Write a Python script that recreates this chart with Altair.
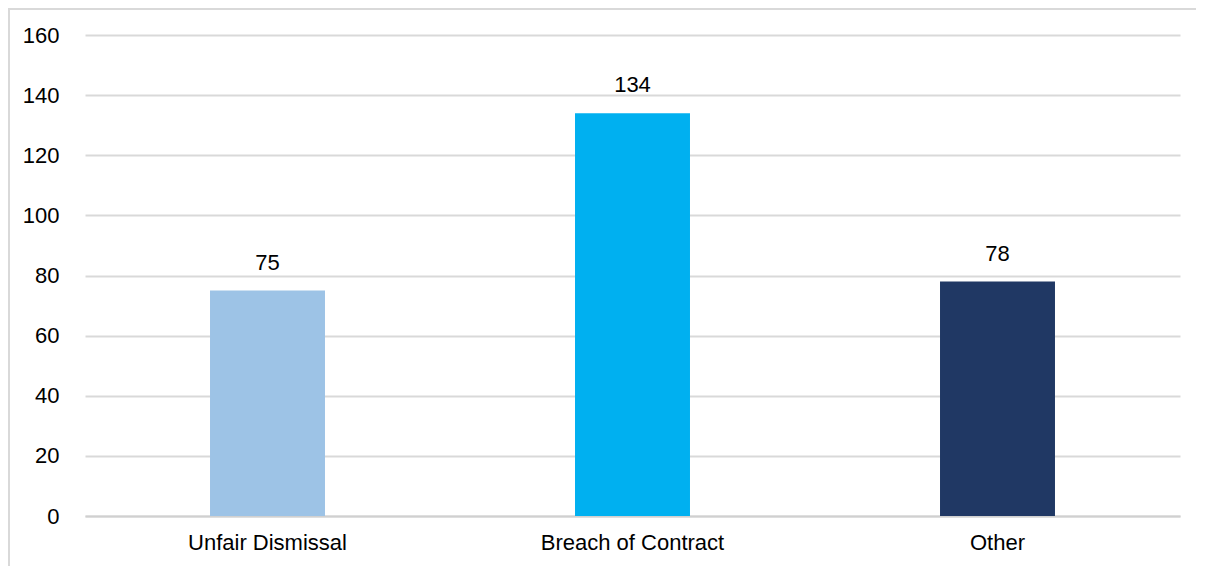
import altair as alt
import pandas as pd

categories = ["Unfair Dismissal", "Breach of Contract", "Other"]
values = [75, 134, 78]
colors = ["#9DC3E6", "#00B0F0", "#203864"]
y_ticks = [0, 20, 40, 60, 80, 100, 120, 140, 160]

df = pd.DataFrame({"category": categories, "value": values, "color": colors})

FONT = "Liberation Sans Narrow, Arial Narrow, Liberation Sans, Arial, sans-serif"
FS = 22
W, H = 1095, 481

x_enc = alt.X(
    "category:N",
    sort=categories,
    title=None,
    scale=alt.Scale(paddingInner=0.685, paddingOuter=0.3425),
    axis=alt.Axis(labelAngle=0, labelFontSize=FS, labelFont=FONT, labelColor="#000000",
                  labelPadding=16, labelLimit=0, ticks=False, domain=True,
                  domainColor="#d0d0d0", domainWidth=2, grid=False),
)
y_enc = alt.Y(
    "value:Q",
    title=None,
    scale=alt.Scale(domain=[0, 160], nice=False),
    axis=alt.Axis(values=y_ticks, labelFontSize=FS, labelFont=FONT, labelColor="#000000",
                  labelPadding=26, ticks=False, domain=False, grid=True,
                  gridColor="#d9d9d9", gridWidth=2),
)

bars = alt.Chart(df).mark_bar().encode(
    x=x_enc,
    y=y_enc,
    color=alt.Color("color:N", scale=None, legend=None),
)

labels = alt.Chart(df).mark_text(
    baseline="bottom", dy=-16, fontSize=FS, font=FONT, color="#000000"
).encode(
    x=alt.X("category:N", sort=categories),
    y=alt.Y("value:Q"),
    text=alt.Text("value:Q"),
)

frame = alt.Chart(df).mark_rect(
    fill=None, stroke="#d9d9d9", strokeWidth=2, clip=False
).encode(
    x=alt.value(-76), x2=alt.value(W + 60),
    y=alt.value(-26), y2=alt.value(H + 100),
)

chart = alt.layer(frame, bars, labels).properties(
    width=W, height=H,
    padding={"left": 77, "top": 27, "right": 16, "bottom": 50},
    autosize=alt.AutoSizeParams(type="none"),
    background="white",
).configure_view(stroke=None)

chart.save("out.html", embed_options={"renderer": "svg", "actions": False})
